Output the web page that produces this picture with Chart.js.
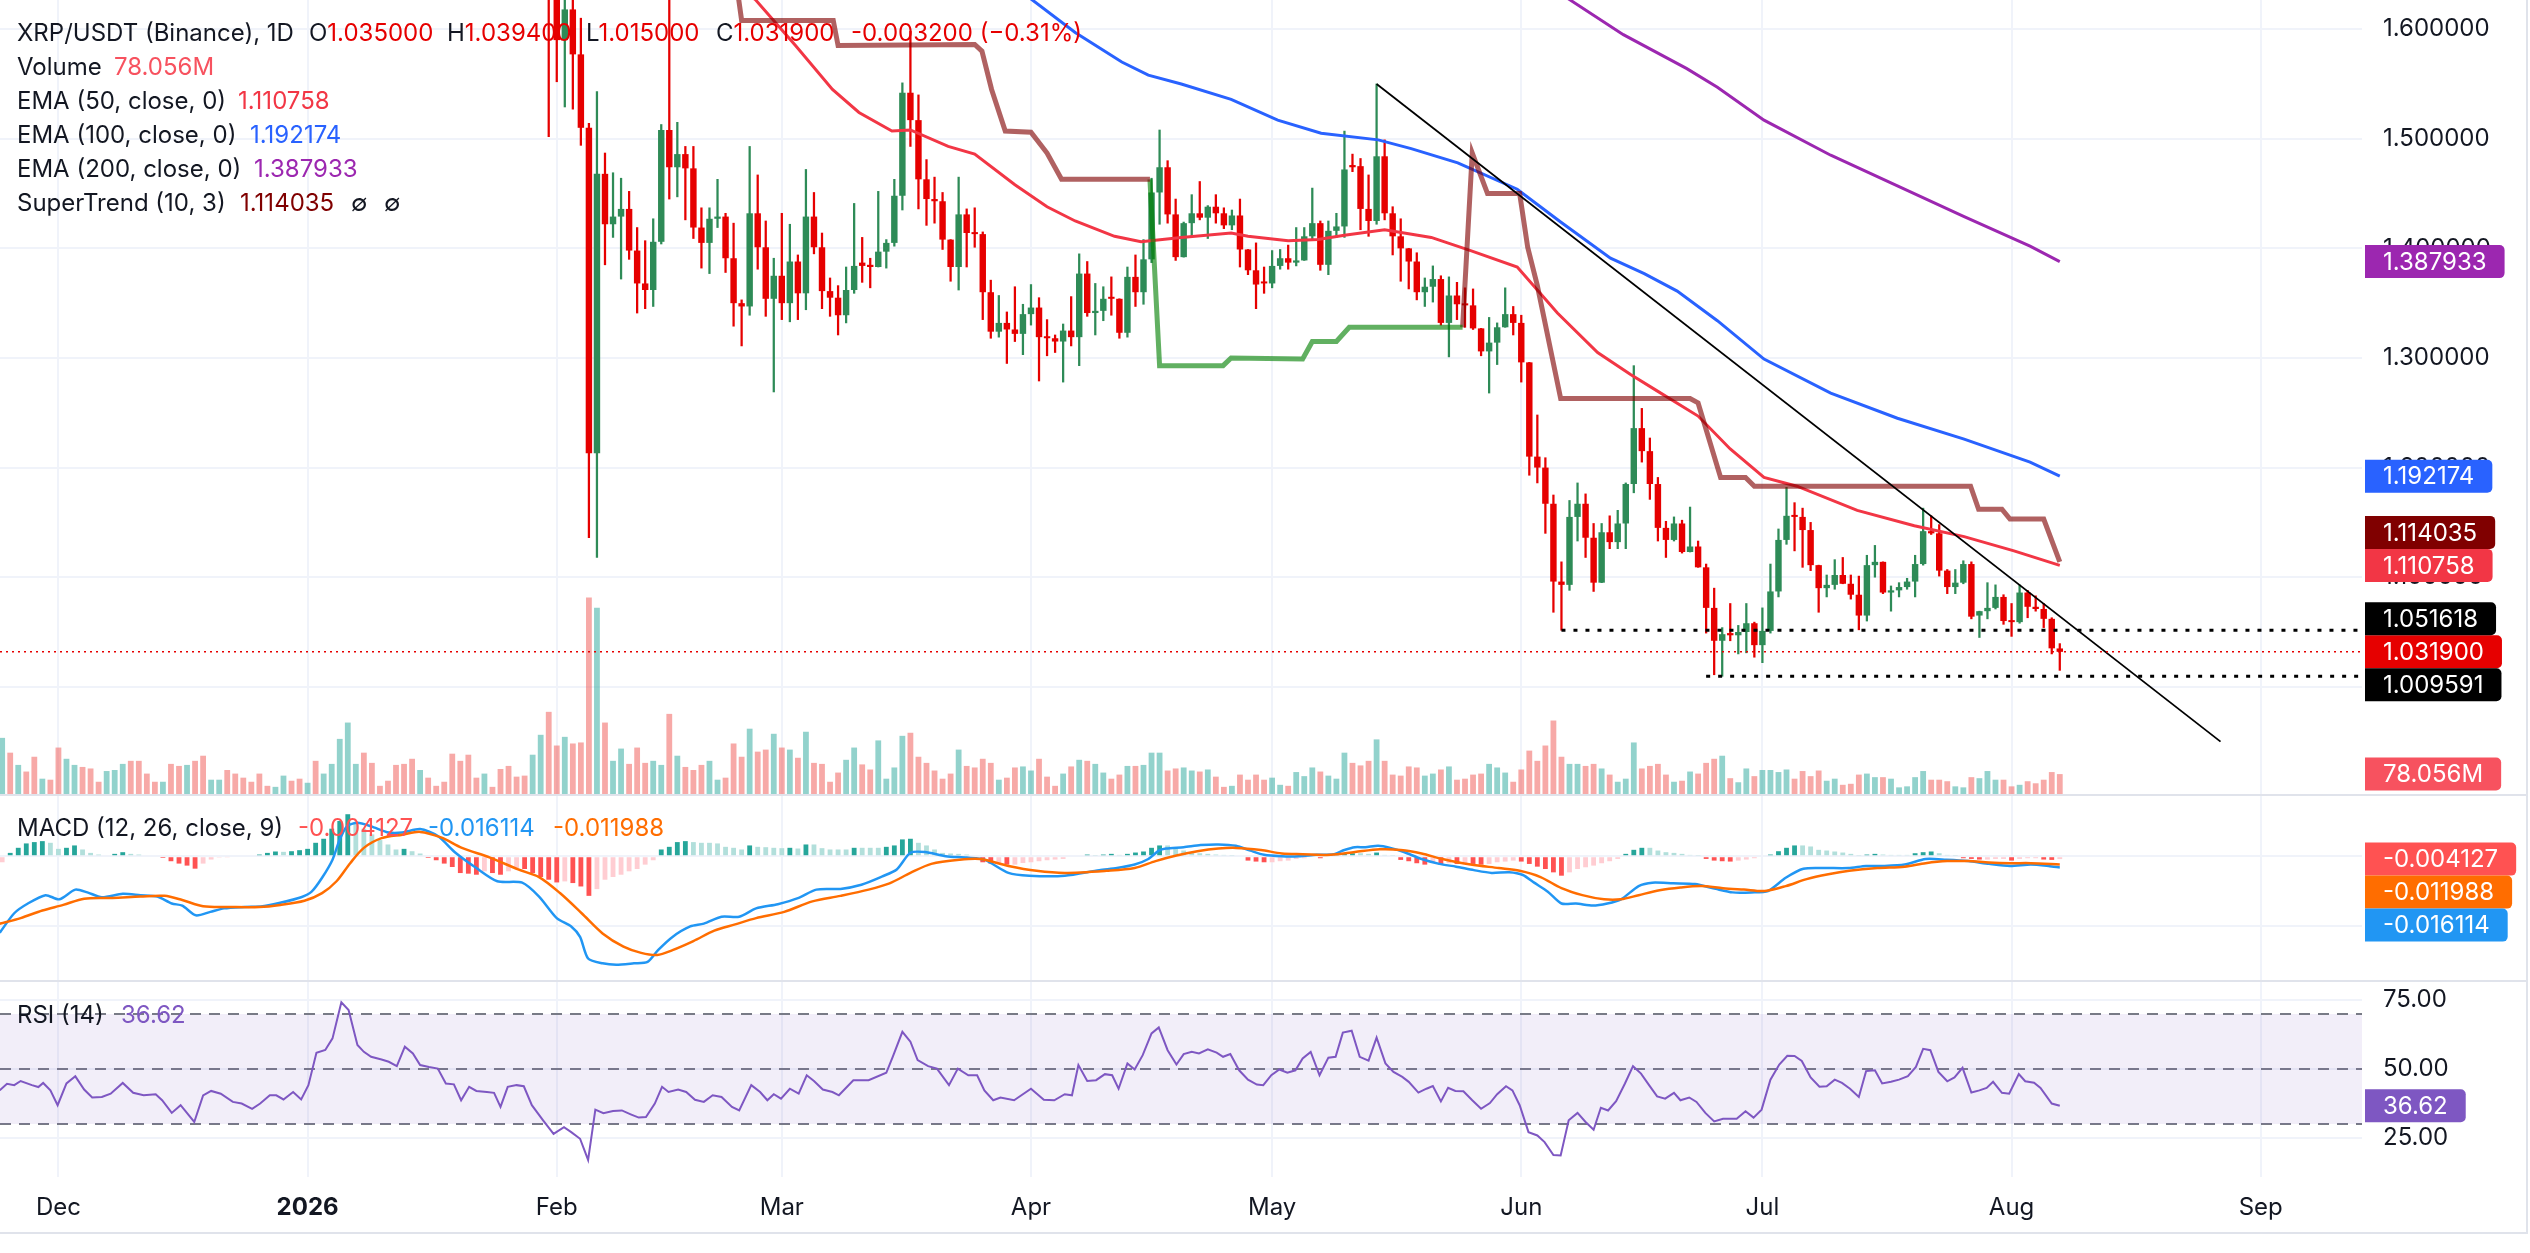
<!DOCTYPE html>
<html>
<head>
<meta charset="utf-8">
<title>XRP/USDT (Binance), 1D</title>
<script src="https://cdn.jsdelivr.net/npm/chart.js@4.4.1/dist/chart.umd.min.js"></script>
<style>
  html, body { margin: 0; padding: 0; background: #ffffff; }
  #wrap { position: relative; width: 2530px; height: 1253px; overflow: hidden; background: #fff;
          font-family: Inter, "Noto Sans", sans-serif; color: #131722; }
  .pane { position: absolute; left: 0; width: 2526px; }
  .sep { position: absolute; left: 0; width: 2528px; height: 2px; background: #E0E3EB; }
  .vsep { position: absolute; top: 0; left: 2526px; width: 2px; height: 1234px; background: #E0E3EB; }
  .legend { position: absolute; left: 17px; width: 1200px; font-size: 24px; line-height: 34px; white-space: nowrap; pointer-events: none; }
  .legend .row { position: relative; height: 34px; }
  .legend .row span { position: absolute; top: 0; }
</style>
</head>
<body>
<div id="wrap">
  <div class="pane" style="top:0;height:794px"><canvas id="mainChart"></canvas></div>
  <div class="pane" style="top:796px;height:184px"><canvas id="macdChart"></canvas></div>
  <div class="pane" style="top:982px;height:251px"><canvas id="rsiChart"></canvas></div>
  <div class="sep" style="top:794px"></div>
  <div class="sep" style="top:980px"></div>
  <div class="sep" style="top:1232px"></div>
  <div class="vsep"></div>
  <div id="legMain" class="legend" style="top:16px"></div>
  <div id="legMacd" class="legend" style="top:811px"></div>
  <div id="legRsi" class="legend" style="top:998px"></div>
</div>
<script>
// x values are days counted from 1 Dec 2025 (day 0); first bar is 24 Nov 2025
const firstDay = -7;
const firstCandleDay = 61;        // earlier candles sit above the visible price range
const monthDays = [0, 31, 62, 90, 121, 151, 182, 212, 243, 274];
const monthNames = ['Dec', '2026', 'Feb', 'Mar', 'Apr', 'May', 'Jun', 'Jul', 'Aug', 'Sep'];

const opens = [1.720,1.665,1.590,1.618,1.577,1.510,1.213,1.468,1.422,1.429,
  1.436,1.398,1.368,1.362,1.406,1.508,1.474,1.486,1.473,1.419,
  1.405,1.427,1.429,1.391,1.350,1.347,1.432,1.401,1.354,1.375,
  1.350,1.388,1.359,1.429,1.401,1.361,1.355,1.339,1.362,1.387,
  1.385,1.383,1.397,1.405,1.448,1.542,1.517,1.463,1.445,1.443,
  1.408,1.383,1.431,1.414,1.413,1.360,1.324,1.332,1.326,1.322,
  1.340,1.346,1.319,1.318,1.315,1.325,1.319,1.377,1.341,1.343,
  1.355,1.354,1.323,1.374,1.360,1.390,1.451,1.474,1.431,1.392,
  1.423,1.432,1.428,1.438,1.432,1.421,1.430,1.399,1.380,1.369,
  1.368,1.384,1.391,1.387,1.389,1.411,1.423,1.385,1.416,1.420,
  1.476,1.475,1.436,1.425,1.484,1.432,1.411,1.400,1.388,1.360,
  1.365,1.372,1.332,1.357,1.349,1.348,1.327,1.306,1.314,1.328,
  1.340,1.332,1.296,1.210,1.200,1.167,1.096,1.093,1.155,1.167,
  1.136,1.095,1.141,1.132,1.149,1.185,1.236,1.215,1.185,1.145,
  1.134,1.149,1.123,1.128,1.109,1.072,1.042,1.049,1.047,1.050,
  1.058,1.038,1.051,1.087,1.134,1.156,1.155,1.143,1.111,1.090,
  1.093,1.102,1.094,1.084,1.065,1.111,1.114,1.086,1.088,1.091,
  1.096,1.112,1.142,1.140,1.106,1.091,1.095,1.112,1.065,1.069,
  1.072,1.082,1.060,1.059,1.086,1.073,1.071,1.062,1.035];
const highs = [1.740,1.680,1.660,1.640,1.610,1.514,1.543,1.487,1.469,1.464,
  1.452,1.419,1.407,1.427,1.513,1.640,1.515,1.493,1.493,1.437,
  1.437,1.463,1.432,1.423,1.353,1.493,1.467,1.425,1.391,1.432,
  1.422,1.394,1.472,1.451,1.414,1.373,1.366,1.383,1.441,1.410,
  1.391,1.452,1.408,1.463,1.551,1.598,1.540,1.481,1.465,1.451,
  1.408,1.465,1.436,1.437,1.415,1.371,1.357,1.342,1.365,1.349,
  1.367,1.355,1.335,1.321,1.331,1.356,1.395,1.388,1.368,1.365,
  1.374,1.354,1.383,1.394,1.408,1.464,1.508,1.480,1.445,1.424,
  1.449,1.461,1.439,1.449,1.437,1.435,1.445,1.399,1.405,1.383,
  1.398,1.399,1.403,1.419,1.419,1.455,1.425,1.425,1.432,1.507,
  1.486,1.482,1.467,1.550,1.499,1.438,1.427,1.400,1.396,1.373,
  1.384,1.375,1.374,1.369,1.364,1.363,1.327,1.337,1.332,1.364,
  1.347,1.339,1.296,1.248,1.209,1.175,1.114,1.170,1.186,1.176,
  1.149,1.149,1.156,1.161,1.186,1.293,1.254,1.227,1.191,1.151,
  1.155,1.152,1.164,1.133,1.112,1.090,1.054,1.076,1.056,1.076,
  1.059,1.072,1.112,1.144,1.182,1.168,1.163,1.150,1.111,1.102,
  1.116,1.118,1.102,1.101,1.120,1.129,1.114,1.092,1.095,1.099,
  1.120,1.163,1.156,1.148,1.107,1.107,1.115,1.114,1.069,1.095,
  1.093,1.084,1.076,1.093,1.088,1.083,1.076,1.063,1.0394];
const lows = [1.502,1.552,1.529,1.527,1.494,1.136,1.118,1.385,1.410,1.372,
  1.390,1.341,1.345,1.347,1.404,1.445,1.447,1.426,1.409,1.382,
  1.377,1.419,1.378,1.329,1.311,1.339,1.381,1.338,1.269,1.335,
  1.333,1.335,1.344,1.395,1.345,1.338,1.321,1.332,1.359,1.369,
  1.364,1.383,1.382,1.402,1.435,1.493,1.436,1.421,1.423,1.399,
  1.370,1.362,1.383,1.401,1.335,1.318,1.319,1.295,1.315,1.303,
  1.330,1.279,1.302,1.305,1.278,1.311,1.293,1.338,1.321,1.334,
  1.339,1.318,1.319,1.347,1.349,1.387,1.422,1.423,1.389,1.392,
  1.410,1.426,1.409,1.423,1.418,1.417,1.383,1.376,1.345,1.359,
  1.364,1.381,1.381,1.384,1.389,1.408,1.380,1.376,1.410,1.410,
  1.470,1.417,1.411,1.422,1.426,1.394,1.370,1.363,1.353,1.347,
  1.351,1.330,1.301,1.335,1.328,1.326,1.302,1.268,1.294,1.328,
  1.321,1.278,1.193,1.186,1.140,1.068,1.0516,1.088,1.133,1.118,
  1.087,1.095,1.126,1.126,1.126,1.177,1.205,1.171,1.133,1.118,
  1.133,1.122,1.123,1.109,1.049,1.011,1.0096,1.042,1.030,1.031,
  1.027,1.022,1.049,1.082,1.130,1.124,1.109,1.106,1.068,1.082,
  1.089,1.094,1.080,1.052,1.060,1.100,1.085,1.069,1.082,1.089,
  1.082,1.111,1.139,1.101,1.085,1.085,1.094,1.062,1.045,1.062,
  1.071,1.057,1.046,1.058,1.063,1.069,1.054,1.030,1.015];
const closes = [1.665,1.590,1.618,1.577,1.510,1.213,1.468,1.422,1.429,1.436,
  1.398,1.368,1.362,1.406,1.508,1.474,1.486,1.473,1.419,1.405,
  1.427,1.429,1.391,1.350,1.347,1.432,1.401,1.354,1.375,1.350,
  1.388,1.359,1.429,1.401,1.361,1.355,1.339,1.362,1.384,1.384,
  1.383,1.397,1.405,1.448,1.542,1.517,1.463,1.445,1.443,1.408,
  1.383,1.431,1.414,1.413,1.360,1.324,1.332,1.326,1.322,1.340,
  1.346,1.319,1.318,1.315,1.325,1.319,1.377,1.341,1.343,1.354,
  1.354,1.323,1.374,1.360,1.390,1.451,1.474,1.431,1.392,1.423,
  1.432,1.428,1.438,1.432,1.421,1.430,1.399,1.380,1.367,1.368,
  1.384,1.391,1.387,1.389,1.411,1.423,1.385,1.416,1.420,1.472,
  1.474,1.436,1.425,1.484,1.432,1.411,1.400,1.388,1.360,1.365,
  1.372,1.332,1.357,1.349,1.348,1.327,1.306,1.314,1.328,1.340,
  1.332,1.296,1.210,1.200,1.167,1.096,1.093,1.155,1.167,1.136,
  1.095,1.141,1.132,1.149,1.185,1.236,1.215,1.185,1.145,1.134,
  1.149,1.123,1.128,1.109,1.072,1.042,1.048,1.047,1.050,1.058,
  1.038,1.051,1.087,1.134,1.156,1.155,1.143,1.111,1.090,1.093,
  1.102,1.094,1.084,1.065,1.111,1.114,1.086,1.088,1.091,1.096,
  1.112,1.142,1.140,1.106,1.091,1.095,1.112,1.064,1.069,1.072,
  1.082,1.060,1.059,1.086,1.073,1.071,1.062,1.0351,1.0319];

// volume in millions, one per day from firstDay
const volumes = [220,162,114,88,146,60,56,182,138,114,106,100,48,90,94,118,130,130,80,48,
  48,118,110,114,130,150,56,56,94,80,64,48,80,32,28,72,52,60,44,130,
  80,118,216,280,118,162,122,32,52,114,118,138,94,64,32,
  48,158,130,154,64,80,28,98,110,68,72,154,232,322,190,224,198,202,770,730,
  280,130,178,118,182,122,130,114,314,150,106,94,114,130,56,64,198,146,256,166,
  174,236,182,174,142,244,122,118,48,84,134,182,
  116,96,210,60,104,228,240,146,122,92,60,80,174,110,104,138,122,56,64,104,
  108,92,138,68,32,80,108,134,130,118,84,60,76,110,110,114,162,162,92,100,
  104,92,88,96,68,28,32,76,56,76,56,64,36,
  32,86,70,104,88,72,60,162,122,112,130,214,130,76,72,108,104,72,80,96,
  108,56,60,76,80,118,104,84,48,96,170,130,190,288,146,118,118,110,118,100,
  76,48,60,202,100,110,118,76,48,52,88,80,122,138,
  150,62,46,100,70,94,94,86,96,60,90,70,92,52,60,36,40,76,80,66,
  66,60,26,30,66,90,56,56,50,30,26,66,62,90,56,56,30,36,50,42,56,86,78.056];
// up/down of days whose candles are off the top of the chart
const earlyVolDir = 'ududdudduuddduuudddduddudduudddd' + 'dduudduduuuuuddddddduddddddduddddduuddd';

const ema50 = [[84,1.640],[86.7,1.627],[91.7,1.585],[96.3,1.545],[99.6,1.524],[103.7,1.507],[106,1.508],
  [110.7,1.493],[114,1.486],[119,1.458],[123,1.438],[126.5,1.425],[131.4,1.411],[134.7,1.406],[139.7,1.410],
  [145.9,1.414],[148,1.411],[153,1.407],[156.7,1.408],[160,1.412],[165,1.417],[170.8,1.410],[175.7,1.398],
  [181.5,1.383],[186.5,1.341],[191.5,1.305],[195.6,1.285],[198.9,1.270],[204,1.247],[208,1.217],[212.2,1.191],
  [216.3,1.183],[223.8,1.161],[230.9,1.147],[237.1,1.137],[243.3,1.124],[249,1.110758]];
const ema100 = [[118,1.645],[121.1,1.627],[126.5,1.597],[132.3,1.570],[135.6,1.558],[139.7,1.550],[145.9,1.536],
  [151.7,1.517],[157.1,1.505],[164.2,1.499],[168.3,1.491],[174.1,1.478],[181.5,1.454],[186.9,1.424],[193.1,1.391],
  [197.3,1.377],[201.4,1.361],[206.4,1.334],[212.2,1.299],[220.5,1.268],[228.8,1.245],[237.1,1.226],[245.3,1.205],
  [249,1.192174]];
const ema200 = [[185,1.642],[188,1.627],[194.7,1.595],[202.6,1.564],[206.4,1.547],[212.2,1.517],[220.5,1.485],
  [228.8,1.457],[237.1,1.429],[245.3,1.402],[249,1.387933]];
const superDown1 = [[84.2,1.650],[85,1.608],[96.4,1.608],[97,1.585],[114,1.586],[114.9,1.580],[116.1,1.545],
  [117.8,1.507],[121,1.506],[123,1.487],[124.8,1.463],[135.8,1.463]];
const superUp = [[135.8,1.463],[137,1.293],[144.9,1.293],[145.9,1.300],[154.8,1.299],[156,1.315],[159,1.315],
  [160.6,1.328],[174.7,1.328]];
const superDown2 = [[174.7,1.328],[175.9,1.487],[177.8,1.450],[181.8,1.450],[182.8,1.401],[184,1.366],[186.9,1.263],
  [203,1.263],[204,1.259],[206.8,1.191],[209.9,1.191],[211,1.183],[237.9,1.183],[238.9,1.162],[241.8,1.162],
  [242.8,1.153],[247,1.153],[249,1.114035]];
const trendLine = [[164,1.550],[269,0.950]];
const levelStart = [187, 205];
const levelValue = [1.051618, 1.009591];

const macdLine = [[-7.3,-0.110],[-5.5,-0.082],[-3.8,-0.068],[-1.6,-0.056],[0.1,-0.062],[2.1,-0.048],[3.6,-0.052],
  [5.4,-0.059],[8,-0.054],[10.2,-0.056],[12.3,-0.058],[14.1,-0.068],[15.4,-0.071],[17.1,-0.085],[18.9,-0.080],
  [20.6,-0.075],[23.2,-0.073],[25.4,-0.072],[27.6,-0.067],[30.2,-0.059],[31.5,-0.051],[32.8,-0.031],[34.1,-0.005],
  [35,0.024],[35.9,0.043],[37.2,0.048],[38.9,0.043],[41.1,0.034],[42.8,0.034],[45,0.039],[47.2,0.029],[49.4,0.005],
  [52,-0.017],[54.6,-0.036],[57.7,-0.038],[59.8,-0.058],[62,-0.089],[63.8,-0.101],[64.9,-0.116],[65.9,-0.147],
  [67.7,-0.154],[69.4,-0.156],[71.6,-0.154],[73.3,-0.152],[74.6,-0.135],[76.4,-0.116],[78.6,-0.101],[80.3,-0.097],
  [82.5,-0.087],[84.7,-0.087],[86.8,-0.075],[89.5,-0.069],[92.1,-0.060],[94.3,-0.048],[97.3,-0.047],[99.9,-0.041],
  [102.5,-0.029],[104.3,-0.019],[106,0.005],[107.8,0.006],[110.4,0.000],[113,-0.002],[115.2,-0.005],[118.2,-0.024],
  [120.8,-0.028],[125.2,-0.028],[129.5,-0.020],[131.7,-0.017],[133.9,-0.012],[135.6,-0.004],[136.9,0.008],
  [137.8,0.011],[140,0.013],[142.1,0.016],[144.3,0.017],[146.5,0.015],[148.3,0.008],[150,0.002],[152.2,0.000],
  [154.3,0.000],[156.5,0.002],[158.7,0.003],[160,0.009],[161.3,0.013],[162.6,0.013],[164.2,0.015],[165.7,0.012],
  [167.4,0.006],[169.6,-0.004],[171.8,-0.011],[173.9,-0.015],[176.1,-0.020],[178.3,-0.024],[180.5,-0.023],
  [182.2,-0.027],[183.6,-0.038],[185.3,-0.051],[187,-0.068],[188.8,-0.068],[190.9,-0.071],[192.7,-0.068],
  [194.4,-0.062],[196.6,-0.043],[198.3,-0.038],[200.9,-0.039],[203.6,-0.040],[206.2,-0.047],[208.3,-0.052],
  [210.6,-0.052],[212.7,-0.050],[214.9,-0.031],[217.1,-0.018],[219.7,-0.017],[222.7,-0.017],[224.9,-0.014],
  [227.1,-0.014],[229.7,-0.012],[232.3,-0.004],[234.9,-0.005],[237.6,-0.007],[240.2,-0.011],[242.8,-0.014],
  [245.4,-0.012],[247.6,-0.014],[249,-0.016114]];
const signalLine = [[-7.3,-0.097],[-4.7,-0.089],[-2,-0.078],[0.6,-0.070],[3.2,-0.061],[6.7,-0.060],[10.2,-0.058],
  [13.2,-0.057],[15.4,-0.063],[18,-0.072],[21.5,-0.073],[25,-0.073],[27.6,-0.070],[30.6,-0.064],[32.8,-0.053],
  [34.6,-0.036],[36.3,-0.010],[38,0.012],[40.2,0.026],[42.8,0.031],[45,0.035],[47.6,0.027],[50.2,0.012],
  [53.7,-0.002],[57.2,-0.019],[59.8,-0.030],[62.4,-0.053],[65.1,-0.082],[67.7,-0.111],[70.3,-0.130],[72.5,-0.139],
  [74.5,-0.142],[76.4,-0.135],[79,-0.122],[81.6,-0.107],[84.2,-0.098],[86.8,-0.089],[90.3,-0.080],[93.8,-0.065],
  [97.3,-0.057],[100.8,-0.048],[103.4,-0.039],[106,-0.024],[108.6,-0.011],[112.1,-0.005],[114.7,-0.004],
  [118.2,-0.014],[121.7,-0.021],[125.2,-0.024],[130.4,-0.021],[133.9,-0.017],[136.5,-0.007],[139.1,0.001],
  [141.7,0.007],[144.3,0.011],[146.5,0.012],[149.6,0.009],[152.2,0.004],[154.8,0.003],[158.3,0.002],[161.3,0.006],
  [164.4,0.010],[167,0.009],[169.6,0.004],[172.2,-0.004],[175.7,-0.012],[179.2,-0.017],[181.8,-0.021],
  [184.4,-0.030],[187,-0.046],[189.6,-0.056],[192.3,-0.062],[194.4,-0.062],[196.6,-0.056],[199.2,-0.049],
  [201.8,-0.045],[204.4,-0.043],[207.1,-0.046],[209.7,-0.048],[212.3,-0.050],[214.9,-0.043],[217.5,-0.033],
  [220.2,-0.026],[222.8,-0.021],[226.3,-0.017],[229.7,-0.015],[232.3,-0.010],[235,-0.007],[237.6,-0.007],
  [240.2,-0.009],[242.8,-0.010],[245.4,-0.010],[249,-0.011988]];
// histogram, one per day from firstDay
const macdHist = [-0.0087,0.0048,0.0121,0.0184,0.0203,0.0217,0.0193,0.0106,0.0121,0.0155,
  0.0097,0.0048,0.0024,-0.0014,0.0034,0.0058,0.0034,0.0024,0.0014,0.0014,
  -0.0024,-0.0072,-0.0106,-0.0135,-0.0179,-0.0106,-0.0048,-0.0019,-0.0010,0.0014,
  0.0014,-0.0014,0.0024,0.0048,0.0068,0.0063,0.0072,0.0087,0.0106,0.0193,
  0.0251,0.0396,0.0507,0.0604,0.0483,0.0396,0.0314,0.0232,0.0169,0.0097,
  0.0106,0.0072,0.0039,-0.0024,-0.0058,-0.0106,-0.0155,-0.0242,-0.0251,-0.0266,
  -0.0217,-0.0242,-0.0266,-0.0217,-0.0169,-0.0184,-0.0242,-0.0299,-0.0338,-0.0377,
  -0.0362,-0.0386,-0.0435,-0.0570,-0.0473,-0.0338,-0.0299,-0.0266,-0.0217,-0.0184,
  -0.0121,-0.0058,0.0097,0.0135,0.0203,0.0217,0.0203,0.0193,0.0193,0.0184,
  0.0135,0.0121,0.0097,0.0155,0.0135,0.0130,0.0121,0.0116,0.0121,0.0111,
  0.0169,0.0169,0.0116,0.0097,0.0097,0.0097,0.0121,0.0121,0.0121,0.0121,
  0.0135,0.0155,0.0242,0.0251,0.0193,0.0155,0.0097,0.0048,0.0039,0.0034,
  0.0024,-0.0048,-0.0087,-0.0106,-0.0106,-0.0121,-0.0121,-0.0097,-0.0087,-0.0072,
  -0.0058,-0.0048,-0.0039,-0.0014,0.0014,0.0024,
  0.0010,0.0024,0.0034,0.0019,0.0034,0.0053,0.0068,0.0121,0.0155,0.0155,
  0.0106,0.0082,0.0058,0.0043,0.0034,0.0024,0.0019,0.0010,0.0000,-0.0063,
  -0.0077,-0.0087,-0.0087,-0.0072,-0.0063,-0.0039,-0.0029,0.0010,-0.0029,0.0010,
  0.0024,0.0034,0.0043,0.0043,0.0034,0.0053,0.0019,0.0010,-0.0053,-0.0072,
  -0.0101,-0.0121,-0.0087,-0.0121,-0.0101,-0.0111,-0.0101,-0.0111,-0.0121,-0.0111,
  -0.0087,-0.0077,-0.0063,-0.0077,-0.0111,-0.0150,-0.0184,-0.0232,-0.0280,-0.0232,
  -0.0184,-0.0159,-0.0135,-0.0101,-0.0072,-0.0039,0.0034,0.0092,0.0121,0.0121,
  0.0082,0.0058,0.0048,0.0034,0.0019,0.0010,-0.0039,-0.0063,-0.0072,-0.0077,
  -0.0063,-0.0048,-0.0029,-0.0014,0.0024,0.0072,0.0121,0.0155,0.0155,0.0140,
  0.0092,0.0082,0.0068,0.0053,0.0034,0.0010,0.0024,0.0034,0.0024,0.0019,
  0.0019,0.0019,0.0043,0.0058,0.0068,0.0043,0.0019,0.0010,-0.0029,-0.0039,
  -0.0048,-0.0048,-0.0039,-0.0039,-0.0063,-0.0039,-0.0029,-0.0029,-0.0048,-0.0053,
  -0.004127];

const rsi = [[-7.3,42.2],[-6.4,44.6],[-5.5,44.1],[-4.7,45.6],[-3.3,44.1],[-2.5,43.4],[-1.9,44.9],[-1,42.2],
  [-0.1,36.8],[1,44.7],[2.1,47.3],[3.2,42.5],[4.2,39.6],[5.4,39.8],[6.5,41],[8,44.9],[9.3,41.3],[10.6,40.4],
  [12.1,40.8],[12.9,38.6],[14.1,34],[15.2,36.8],[16.9,30.7],[18,40.4],[19,42],[20.2,41],[21.7,38],[22.8,37.4],
  [24.1,35.5],[25.1,37.4],[26.3,40.4],[27.1,40.4],[28,38.9],[29.2,41.6],[30.2,38.9],[31.1,44.1],[32.1,55.9],
  [33.2,56.9],[34.1,61.1],[35.2,74.2],[36.1,71.4],[37.2,58.7],[38,56.2],[38.9,54.4],[40.2,53.4],[41.1,52.6],
  [42.1,51],[43.1,58.1],[44.1,55.6],[45,51.4],[46.1,50.7],[47.2,50.1],[48.2,44.7],[49.2,44.4],[50.1,38.6],
  [51.1,43.5],[52,42],[53.3,41.6],[54.2,41.3],[55,36.2],[55.9,43.5],[57,44.1],[57.9,43.7],[58.9,36.8],
  [60.3,31.3],[61.6,26.4],[62.9,28.8],[63.8,27],[64.9,24.6],[65.9,16.9],[66.8,35.2],[67.8,33.9],[69,34.7],
  [70.1,34.9],[71.2,33.5],[72.2,32.3],[73.1,32.5],[74.2,37.4],[75.1,43.5],[75.9,41.6],[77.1,42.5],[78.1,41.6],
  [79.2,38.8],[80.3,38],[81.4,40.4],[82.5,39.8],[83.8,36.2],[84.7,34.9],[86.2,44.1],[87.3,41.6],[88.2,38.6],
  [89,40.8],[89.9,39.2],[91,42.8],[92.1,41],[93.1,47.7],[94,45.6],[95.1,42.5],[96.3,41.6],[97.1,40.4],
  [98.9,45.9],[100.8,45.9],[103,48.6],[103.8,54.4],[105,63.5],[106,59.9],[106.9,53.2],[108.2,51],[109.3,50.1],
  [110.8,44.1],[111.9,50.1],[113.2,47.7],[114.3,47.7],[115.2,42.2],[116.3,38.6],[117.2,39.6],[118.9,38.6],
  [121,42.8],[122.6,38.8],[123.9,38.6],[125.2,40.8],[126.1,40.4],[126.9,51.4],[128,45.6],[129.1,45.9],
  [130.2,48.1],[131.1,47.7],[131.9,42.8],[133,52],[133.9,49.8],[134.9,55],[136,62.9],[136.9,65.1],[138,56.8],
  [139.1,51.6],[140,55.4],[141,56.2],[141.9,55.6],[143,57.1],[144.1,55.9],[144.9,54.4],[145.8,55.4],
  [146.9,49.5],[148,46.1],[149.1,44.3],[149.9,44.1],[150.9,47.7],[151.9,49.8],[152.9,48.6],[153.9,49.5],
  [154.8,53.8],[155.8,56.2],[156.9,47.7],[158,54.1],[158.9,54.4],[159.8,63.2],[160.9,63.9],[161.9,54.4],
  [163,53],[164,61.4],[165.1,52],[166.1,48.9],[167.2,47.1],[168,45.3],[169.2,41.4],[170.2,42.8],[171,43.8],
  [172,38.2],[172.9,43.1],[173.8,42],[174.8,41.9],[175.9,38.6],[177,35.5],[178.1,37.6],[179,40.8],[180.1,43.7],
  [180.9,42.2],[181.8,36.8],[182.9,27],[184,25.8],[184.9,23.4],[186,18.7],[186.9,18.5],[187.9,31.3],[189,34],
  [190,30.7],[191,27.9],[191.9,35.9],[192.8,34.9],[193.8,38.3],[194.9,44.7],[195.9,51],[196.9,48.3],
  [197.9,44.1],[198.9,40],[199.9,39.2],[201,41.3],[201.8,38.6],[202.9,39.6],[203.8,38],[204.9,34],[206,30.9],
  [207.1,31.9],[208.8,31.9],[209.9,34.6],[210.9,32.3],[211.9,35.2],[213,46.1],[214.1,51.6],[215.1,54.8],
  [216,54.7],[216.9,52.9],[218,46.9],[219.1,43.5],[220,43.7],[221,46.1],[221.9,44.9],[222.9,42.8],[224,39.8],
  [224.9,49.2],[226,49.5],[226.9,44.7],[228,45.3],[229,46.1],[230.1,47.4],[231.1,50.7],[232,57.3],[232.9,56.8],
  [233.9,48.9],[235,45.5],[235.9,46.9],[236.9,50.4],[238,41.4],[239,42.2],[239.9,43.1],[240.7,45.3],
  [241.8,41.3],[242.7,41],[243.9,48.1],[244.7,45.5],[245.8,45],[246.6,43.1],[248,37.4],[249,36.62]];
const rsiLevels = [70, 50, 30];

// ---- drawing ----
const X_MIN = -7.27, X_MAX = 286.6;
const FONT = 'Inter, "Noto Sans", sans-serif';
const TEXT = '#131722';
const GRID = '#F0F3FA';
const UP = '#2E8B57', DOWN = '#E60000';
const VOL_UP = 'rgba(38,166,154,0.5)', VOL_DOWN = 'rgba(239,83,80,0.5)';
const AXIS_W = 164;

Chart.defaults.font.family = FONT;

function pts(pairs) { return pairs.map(p => ({ x: p[0], y: p[1] })); }
function last(a) { return a[a.length - 1]; }

function lineSet(pairs, color, width, order, extra) {
  return Object.assign({
    type: 'line', data: pts(pairs), borderColor: color, borderWidth: width,
    pointRadius: 0, tension: 0, fill: false, order: order
  }, extra || {});
}

function xAxis(showLabels) {
  return {
    type: 'linear', min: X_MIN, max: X_MAX, offset: false,
    afterBuildTicks: s => { s.ticks = monthDays.map(v => ({ value: v })); },
    afterFit: s => { s.height = showLabels ? 56 : 0; s.paddingLeft = 0; s.paddingRight = 0; },
    grid: { color: GRID, lineWidth: 2, drawTicks: false, offset: false },
    border: { display: false },
    ticks: {
      display: showLabels, autoSkip: false, maxRotation: 0, padding: 16, color: TEXT,
      font: c => {
        const name = monthNames[monthDays.indexOf(c.tick ? c.tick.value : NaN)] || '';
        return { family: FONT, size: 24, weight: /^\d{4}$/.test(name) ? 'bold' : 'normal' };
      },
      callback: v => monthNames[monthDays.indexOf(v)]
    }
  };
}

function yAxis(min, max, ticks, digits) {
  return {
    position: 'right', min: min, max: max,
    afterBuildTicks: s => { s.ticks = ticks.map(v => ({ value: v })); },
    afterFit: s => { s.width = AXIS_W; s.paddingTop = 0; s.paddingBottom = 0; },
    grid: { color: GRID, lineWidth: 2, drawTicks: false },
    border: { display: false },
    ticks: { autoSkip: false, padding: 21, color: TEXT, font: { family: FONT, size: 24 },
             callback: v => Number(v).toFixed(digits) }
  };
}

// coloured value boxes on the price scale, pushed apart when they overlap
function boxPlugin(items) {
  return {
    id: 'valueBoxes',
    afterDraw(chart) {
      const ctx = chart.ctx, h = 33, placed = [];
      ctx.save();
      ctx.font = '24px ' + FONT;
      ctx.textBaseline = 'middle';
      items.forEach(it => {
        const want = chart.scales[it.axis].getPixelForValue(it.value);
        let y = want;
        for (let k = 0; k < 12; k++) {
          const hit = placed.find(p => Math.abs(p.y - y) < h - 0.5);
          if (!hit) break;
          y = want >= hit.want ? hit.y + h : hit.y - h;
        }
        placed.push({ y: y, want: want });
        const x = chart.chartArea.right + 3;
        const w = ctx.measureText(it.text).width + 36;
        ctx.fillStyle = it.color;
        ctx.beginPath();
        ctx.roundRect(x, y - h / 2, w, h, [0, 5, 5, 0]);
        ctx.fill();
        ctx.fillStyle = '#ffffff';
        ctx.fillText(it.text, x + 18, y + 1);
      });
      ctx.restore();
    }
  };
}

const baseOptions = {
  responsive: true, maintainAspectRatio: false, animation: false, events: [],
  layout: { padding: 0, autoPadding: false },
  plugins: { legend: { display: false }, tooltip: { enabled: false } }
};

// ---- main pane ----
const wickData = [], bodyData = [], candleColors = [];
opens.forEach((o, i) => {
  const d = firstCandleDay + i;
  wickData.push({ x: d, y: [lows[i], highs[i]] });
  bodyData.push({ x: d, y: [o, closes[i]] });
  candleColors.push(closes[i] >= o ? UP : DOWN);
});
const volData = volumes.map((v, i) => ({ x: firstDay + i, y: v }));
const volColors = volumes.map((v, i) => {
  const d = firstDay + i;
  if (d < firstCandleDay) return earlyVolDir[i] === 'u' ? VOL_UP : VOL_DOWN;
  const k = d - firstCandleDay;
  return closes[k] >= opens[k] ? VOL_UP : VOL_DOWN;
});
const lastClose = last(closes);
const levelSets = levelValue.map((v, i) => lineSet([[levelStart[i], v], [X_MAX, v]], '#000000', 3, 2,
  { borderDash: [4, 8] }));

new Chart(document.getElementById('mainChart'), {
  type: 'bar',
  data: {
    datasets: [
      { type: 'bar', data: volData, yAxisID: 'yv', backgroundColor: volColors,
        barPercentage: 0.72, categoryPercentage: 1, grouped: false, order: 10 },
      { type: 'bar', data: wickData, yAxisID: 'y', backgroundColor: candleColors,
        barThickness: 1.6, grouped: false, order: 9 },
      { type: 'bar', data: bodyData, yAxisID: 'y', backgroundColor: candleColors,
        barPercentage: 0.8, categoryPercentage: 1, grouped: false, minBarLength: 2, order: 8 },
      lineSet(ema200, '#9C27B0', 3, 6),
      lineSet(ema100, '#2962FF', 3, 6),
      lineSet(ema50, '#F23645', 3, 5),
      lineSet(superDown1, 'rgba(128,0,0,0.62)', 5, 4),
      lineSet(superUp, 'rgba(0,128,0,0.62)', 5, 4),
      lineSet(superDown2, 'rgba(128,0,0,0.62)', 5, 4),
      lineSet(trendLine, '#000000', 1.8, 3),
      ...levelSets,
      lineSet([[X_MIN, lastClose], [X_MAX, lastClose]], DOWN, 1.5, 1, { borderDash: [2, 4] })
    ]
  },
  options: Object.assign({}, baseOptions, {
    scales: {
      x: xAxis(false),
      y: yAxis(0.9022, 1.6266, [1.0, 1.1, 1.2, 1.3, 1.4, 1.5, 1.6], 6),
      yv: { display: false, min: 0, max: 3112 }
    }
  }),
  plugins: [boxPlugin([
    { axis: 'y', value: lastClose, text: lastClose.toFixed(6), color: DOWN },
    { axis: 'y', value: last(ema50)[1], text: last(ema50)[1].toFixed(6), color: '#F23645' },
    { axis: 'y', value: last(superDown2)[1], text: last(superDown2)[1].toFixed(6), color: '#800000' },
    { axis: 'y', value: last(ema100)[1], text: last(ema100)[1].toFixed(6), color: '#2962FF' },
    { axis: 'y', value: last(ema200)[1], text: last(ema200)[1].toFixed(6), color: '#9C27B0' },
    { axis: 'y', value: levelValue[0], text: levelValue[0].toFixed(6), color: '#000000' },
    { axis: 'y', value: levelValue[1], text: levelValue[1].toFixed(6), color: '#000000' },
    { axis: 'yv', value: last(volumes), text: last(volumes).toFixed(3) + 'M', color: '#F7525F' }
  ])]
});

// ---- MACD pane ----
const histData = macdHist.map((v, i) => ({ x: firstDay + i, y: v }));
const histColors = macdHist.map((v, i) => {
  const prev = i > 0 ? macdHist[i - 1] : v;
  if (v >= 0) return v > prev ? '#26A69A' : '#B2DFDB';
  return v < prev ? '#FF5252' : '#FFCDD2';
});
new Chart(document.getElementById('macdChart'), {
  type: 'bar',
  data: {
    datasets: [
      { type: 'bar', data: histData, backgroundColor: histColors, barPercentage: 0.6,
        categoryPercentage: 1, grouped: false, order: 5 },
      lineSet(macdLine, '#2196F3', 2.5, 2, { tension: 0.25 }),
      lineSet(signalLine, '#FF6D00', 2.5, 1, { tension: 0.3 })
    ]
  },
  options: Object.assign({}, baseOptions, {
    scales: { x: xAxis(false), y: yAxis(-0.178, 0.0866, [0, -0.1], 6) }
  }),
  plugins: [boxPlugin([
    { axis: 'y', value: last(macdHist), text: last(macdHist).toFixed(6), color: '#FF5252' },
    { axis: 'y', value: last(signalLine)[1], text: last(signalLine)[1].toFixed(6), color: '#FF6D00' },
    { axis: 'y', value: last(macdLine)[1], text: last(macdLine)[1].toFixed(6), color: '#2196F3' }
  ])]
});

// ---- RSI pane ----
const bandLine = v => [[X_MIN, v], [X_MAX, v]];
const dash = [11, 8];
new Chart(document.getElementById('rsiChart'), {
  type: 'line',
  data: {
    datasets: [
      lineSet(bandLine(rsiLevels[0]), '#787B86', 2, 5,
        { borderDash: dash, fill: '+1', backgroundColor: 'rgba(126,87,194,0.1)' }),
      lineSet(bandLine(rsiLevels[2]), '#787B86', 2, 5, { borderDash: dash }),
      lineSet(bandLine(rsiLevels[1]), '#787B86', 2, 5, { borderDash: dash }),
      lineSet(rsi, '#7E57C2', 2, 1)
    ]
  },
  options: Object.assign({}, baseOptions, {
    scales: { x: xAxis(true), y: yAxis(10.7, 81.6, [25, 50, 75], 2) }
  }),
  plugins: [boxPlugin([
    { axis: 'y', value: last(rsi)[1], text: last(rsi)[1].toFixed(2), color: '#7E57C2' }
  ])]
});

// ---- legends (item left offsets in px) ----
const n = opens.length - 1;
const chg = closes[n] - closes[n - 1];
const pct = chg / closes[n - 1] * 100;
const col = closes[n] >= opens[n] ? UP : DOWN;
const sign = v => (v < 0 ? '\u2212' : '+') + Math.abs(v).toFixed(2);
const item = (left, html) => `<span style="left:${left}px">${html}</span>`;
const tint = (t, c) => `<span style="position:static;color:${c}">${t}</span>`;
const row = parts => `<div class="row">${parts.join('')}</div>`;

document.getElementById('legMain').innerHTML = [
  row([item(0, 'XRP/USDT (Binance), 1D'),
       item(292, 'O' + tint(opens[n].toFixed(6), col)),
       item(430, 'H' + tint(highs[n].toFixed(6), col)),
       item(569, 'L' + tint(lows[n].toFixed(6), col)),
       item(699, 'C' + tint(closes[n].toFixed(6), col)),
       item(834, tint(chg.toFixed(6) + ' (' + sign(pct) + '%)', col))]),
  row([item(0, 'Volume'), item(97, tint(last(volumes).toFixed(3) + 'M', '#F7525F'))]),
  row([item(0, 'EMA (50, close, 0)'), item(221, tint(last(ema50)[1].toFixed(6), '#F23645'))]),
  row([item(0, 'EMA (100, close, 0)'), item(233, tint(last(ema100)[1].toFixed(6), '#2962FF'))]),
  row([item(0, 'EMA (200, close, 0)'), item(237, tint(last(ema200)[1].toFixed(6), '#9C27B0'))]),
  row([item(0, 'SuperTrend (10, 3)'), item(223, tint(last(superDown2)[1].toFixed(6), '#800000')),
       item(334, '\u2205'), item(367, '\u2205')])
].join('');
document.getElementById('legMacd').innerHTML = row([
  item(0, 'MACD (12, 26, close, 9)'),
  item(281, tint(last(macdHist).toFixed(6), '#FF5252')),
  item(411, tint(last(macdLine)[1].toFixed(6), '#2196F3')),
  item(536, tint(last(signalLine)[1].toFixed(6), '#FF6D00'))]);
document.getElementById('legRsi').innerHTML = row([
  item(0, 'RSI (14)'), item(104, tint(last(rsi)[1].toFixed(2), '#7E57C2'))]);
</script>
</body>
</html>
